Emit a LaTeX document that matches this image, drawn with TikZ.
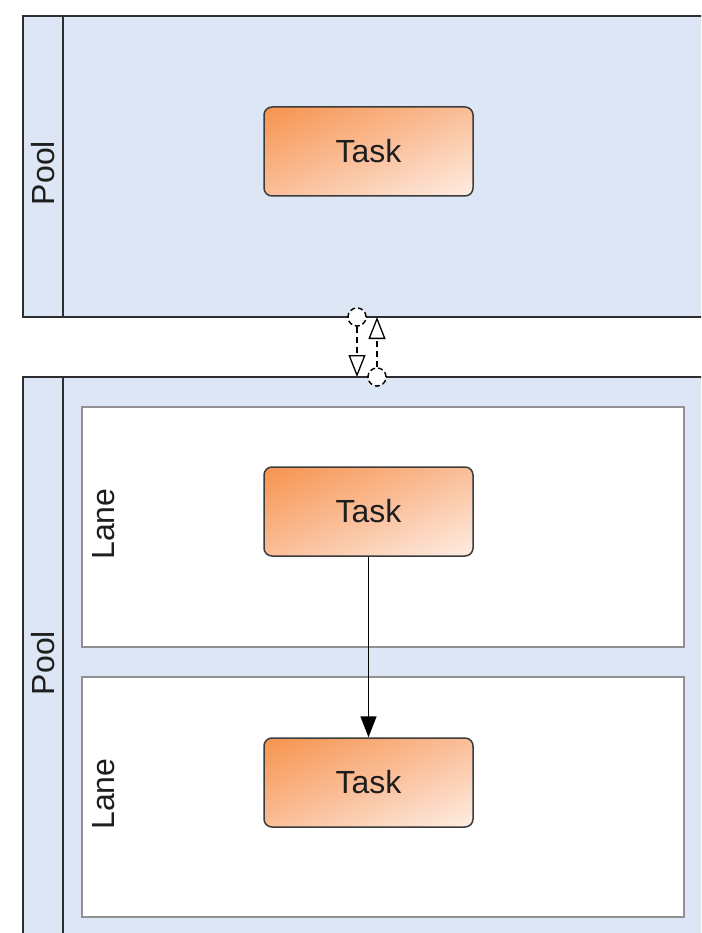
\documentclass[tikz,border=0pt]{standalone}
\usepackage{fontspec}
\setmainfont{Liberation Sans}
\usetikzlibrary{arrows.meta}
\definecolor{poolfill}{RGB}{220,230,244}
\definecolor{poolline}{RGB}{45,45,50}
\definecolor{taskorange}{RGB}{245,132,52}
\definecolor{taskmid}{RGB}{250,190,152}
\definecolor{edgegray}{RGB}{60,60,60}
\definecolor{lanegray}{RGB}{145,145,148}
\definecolor{txt}{RGB}{30,30,30}
\begin{document}
\begin{tikzpicture}[x=1pt,y=-1pt,
  poolborder/.style={draw=poolline,line width=2pt},
  lanebox/.style={draw=lanegray,fill=white,line width=1.8pt},
  task/.style={draw=edgegray,line width=1.5pt,rounded corners=8pt,
    minimum width=209pt,minimum height=89pt,inner sep=0pt,
    path picture={\shade[top color=taskorange,bottom color=white,middle color=taskmid,shading angle=23]
      ([shift={(-112pt,-112pt)}]path picture bounding box.center) rectangle
      ([shift={(112pt,112pt)}]path picture bounding box.center);},
    font=\fontsize{32}{38}\selectfont,text=txt},
  vlabel/.style={rotate=90,anchor=base,font=\fontsize{32}{38}\selectfont,text=txt,inner sep=0pt},
  seqflow/.style={draw=black,line width=1.5pt,-{Triangle[length=21pt,width=16pt]}},
  msgflow/.style={draw=black,line width=1.3pt,dash pattern=on 6pt off 4pt,
    -{Triangle[open,length=22pt,width=17pt]}},
  msgstart/.style={circle,draw=black,fill=white,line width=1.3pt,dash pattern=on 5pt off 3pt,
    minimum size=18pt,inner sep=0pt}
]
\useasboundingbox (0,0) rectangle (701,933);
\clip (0,0) rectangle (701,933);
\fill[white] (0,0) rectangle (701,933);

% top pool
\fill[poolfill] (23,16) rectangle (720,317);
\draw[poolborder] (720,16) -- (23,16) -- (23,317) -- (720,317);
\draw[poolborder] (63,16) -- (63,317);
\node[vlabel] (pool1) at (54,173) {Pool};

% bottom pool
\fill[poolfill] (23,377) rectangle (720,950);
\draw[poolborder] (720,377) -- (23,377) -- (23,950);
\draw[poolborder] (63,377) -- (63,950);
\node[vlabel] (pool2) at (54,663) {Pool};

% lanes
\draw[lanebox] (82,407) rectangle (684,647);
\draw[lanebox] (82,677) rectangle (684,917);
\node[vlabel] (lane1) at (114,524) {Lane};
\node[vlabel] (lane2) at (114,794) {Lane};

% tasks
\node[task] (t1) at (368.5,151.5) {Task};
\node[task] (t2) at (368.5,511.5) {Task};
\node[task] (t3) at (368.5,782.5) {Task};

\draw[seqflow] (t2) -- (t3);

% message flows
\node[msgstart] (c1) at (357,317) {};
\node[msgstart] (c2) at (377,377) {};
\coordinate (e1) at (357,377);
\coordinate (e2) at (377,317);
\draw[msgflow] (c1) -- (e1);
\draw[msgflow] (c2) -- (e2);
\node[msgstart] at (c1) {};
\node[msgstart] at (c2) {};
\end{tikzpicture}
\end{document}
